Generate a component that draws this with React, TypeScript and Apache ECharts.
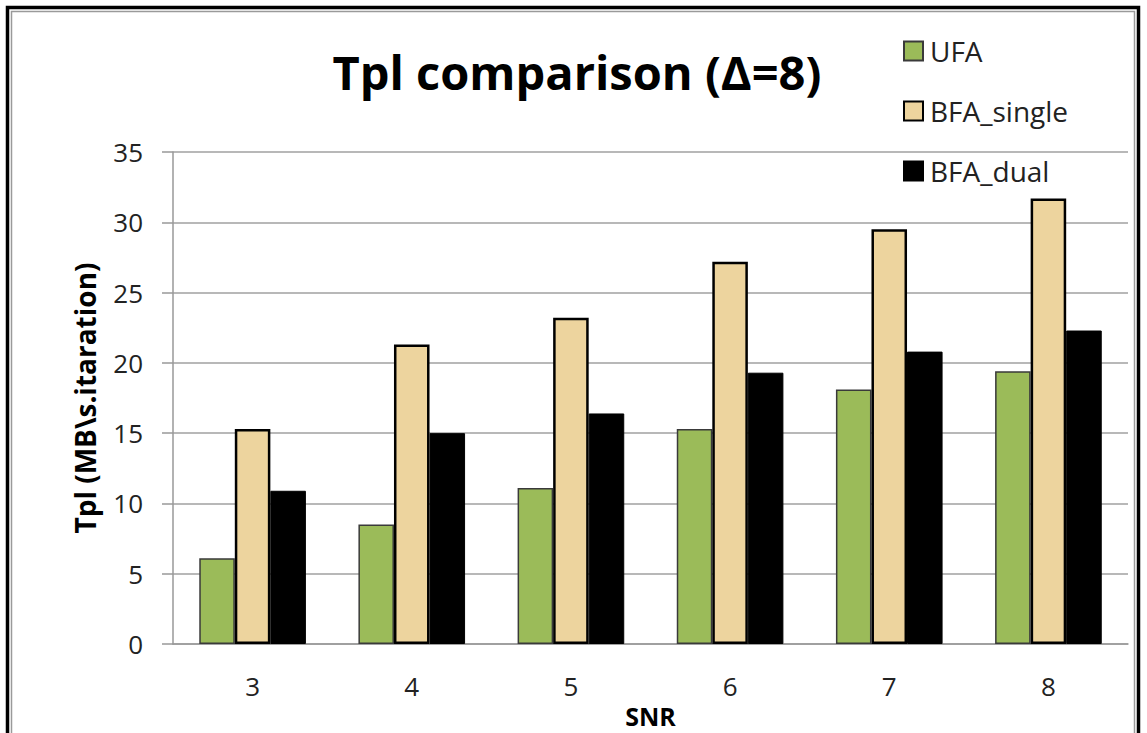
import React, { useEffect, useRef } from "react";
import * as echarts from "echarts";

const categories = ["3", "4", "5", "6", "7", "8"];
const ufa = [6.1, 8.5, 11.1, 15.3, 18.1, 19.4];
const bfaSingle = [15.3, 21.3, 23.2, 27.2, 29.5, 31.7];
const bfaDual = [10.9, 15.0, 16.4, 19.3, 20.8, 22.3];
const seriesNames = ["UFA", "BFA_single", "BFA_dual"];
const titleText = "Tpl comparison (\u0394=8)";
const yAxisName = "Tpl (MB\\s.itaration)";
const xAxisName = "SNR";

const FONT = "'Open Sans', 'Noto Sans', sans-serif";

export default function App() {
  const ref = useRef<HTMLDivElement>(null);
  useEffect(() => {
    if (!ref.current) return;
    const chart = echarts.init(ref.current, undefined, { renderer: "svg" });
    chart.setOption({
      animation: false,
      backgroundColor: "#ffffff",
      textStyle: { fontFamily: FONT },
      title: {
        text: titleText,
        left: 572,
        top: 43,
        textAlign: "center",
        textStyle: { fontFamily: FONT, fontSize: 47, fontWeight: "bold", color: "#000" },
      },
      legend: {
        orient: "vertical",
        left: 898,
        top: 32,
        itemWidth: 19,
        itemHeight: 19,
        itemGap: 32,
        icon: "rect",
        textStyle: { fontFamily: FONT, fontSize: 28, color: "#222", padding: [0, 0, 0, 2] },
        data: seriesNames,
      },
      grid: { left: 173, right: 19, top: 152, bottom: 89, containLabel: false, outerBoundsMode: "none" },
      xAxis: {
        type: "category",
        data: categories,
        name: xAxisName,
        nameLocation: "middle",
        nameGap: 53,
        nameTextStyle: { fontFamily: FONT, fontSize: 25, fontWeight: "bold", color: "#000" },
        axisLine: { lineStyle: { color: "#999", width: 1.5 } },
        axisTick: { show: false },
        axisLabel: { fontFamily: FONT, fontSize: 26, color: "#222", margin: 29 },
      },
      yAxis: {
        type: "value",
        min: 0,
        max: 35,
        interval: 5,
        name: yAxisName,
        nameLocation: "middle",
        nameGap: 74,
        nameRotate: 90,
        nameTextStyle: { fontFamily: FONT, fontSize: 28, fontWeight: "bold", color: "#000" },
        axisLine: { show: true, lineStyle: { color: "#999", width: 1.5 } },
        axisTick: { show: true, length: 11, lineStyle: { color: "#999", width: 1.5 } },
        axisLabel: { fontFamily: FONT, fontSize: 26, color: "#222", margin: 30 },
        splitLine: { lineStyle: { color: "#a0a0a0", width: 1.5 } },
      },
      series: [
        {
          name: seriesNames[0],
          type: "bar",
          data: ufa,
          barGap: "0%",
          barCategoryGap: "33%",
          itemStyle: { color: "#9BBB59", borderColor: "#3a3a3a", borderWidth: 1.5 },
        },
        {
          name: seriesNames[1],
          type: "bar",
          data: bfaSingle,
          barGap: "0%",
          barCategoryGap: "33%",
          itemStyle: { color: "#EDD49E", borderColor: "#000", borderWidth: 2.5 },
        },
        {
          name: seriesNames[2],
          type: "bar",
          data: bfaDual,
          barGap: "0%",
          barCategoryGap: "33%",
          itemStyle: { color: "#000", borderColor: "#000", borderWidth: 1 },
        },
      ],
      graphic: [
        {
          type: "rect",
          shape: { x: 7.5, y: 7.5, width: 1131, height: 760 },
          style: { fill: "none", stroke: "#000", lineWidth: 3.5 },
          silent: true,
        },
        {
          type: "rect",
          shape: { x: 11.5, y: 11.5, width: 1123, height: 760 },
          style: { fill: "none", stroke: "#9a9a9a", lineWidth: 1.5 },
          silent: true,
        },
      ],
    });
    return () => chart.dispose();
  }, []);
  return (
    <div
      ref={ref}
      style={{ position: "fixed", left: 0, top: 0, width: 1147, height: 733 }}
    />
  );
}
